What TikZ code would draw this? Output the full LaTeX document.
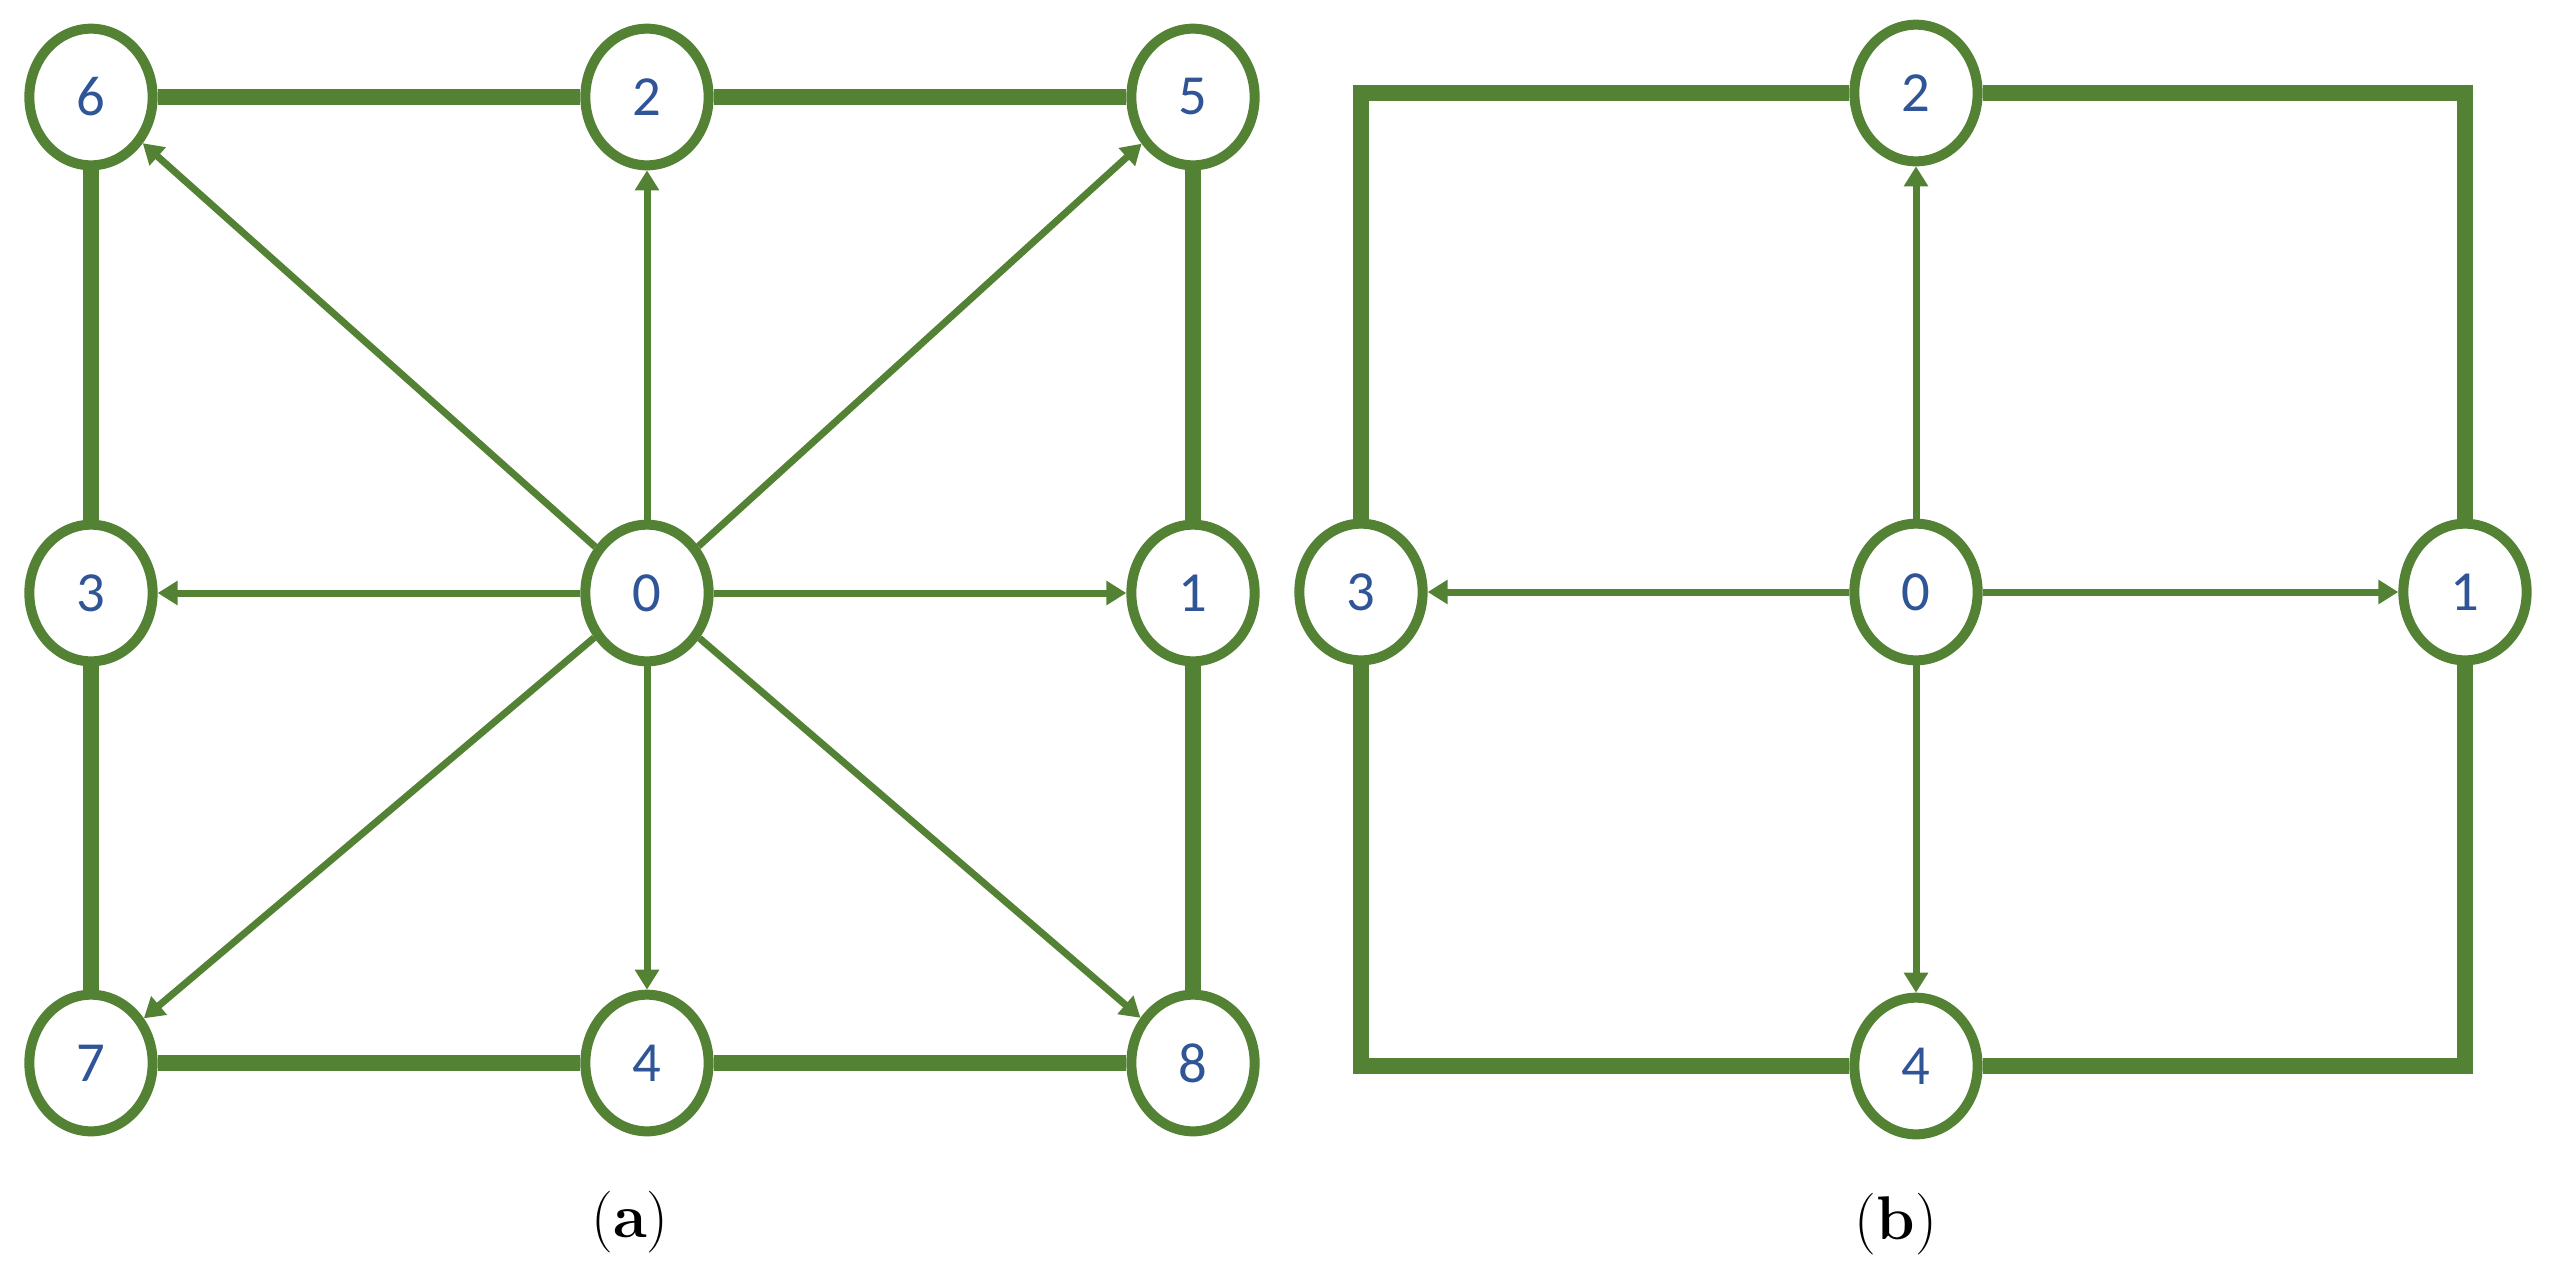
\documentclass[tikz,border=0pt]{standalone}
\usepackage{fontspec}
\newfontfamily\numfont{Carlito}
\usetikzlibrary{arrows.meta,shapes.geometric}
\definecolor{gr}{HTML}{548235}
\definecolor{bl}{HTML}{2F5597}
\tikzset{
  vtx/.style={ellipse,draw=gr,line width=3pt,fill=white,minimum width=37pt,minimum height=41pt,inner sep=0pt,text=bl,font=\numfont\fontsize{17}{20}\selectfont},
  thickedge/.style={draw=gr,line width=4.8pt},
  arr/.style={draw=gr,line width=2.1pt,-{Triangle[length=6pt,width=7pt]}},
  captxt/.style={font=\fontsize{18.5}{22}\selectfont}
}
\begin{document}
\begin{tikzpicture}[x=0.3pt,y=-0.3pt]
\useasboundingbox (0,0) rectangle (2553,1272);
% panel (a)
\node[vtx] (a6) at (91,97) {6};
\node[vtx] (a2) at (647,97) {2};
\node[vtx] (a5) at (1193,97) {5};
\node[vtx] (a3) at (91,593) {3};
\node[vtx] (a0) at (647,593) {0};
\node[vtx] (a1) at (1193,593) {1};
\node[vtx] (a7) at (91,1063) {7};
\node[vtx] (a4) at (647,1063) {4};
\node[vtx] (a8) at (1193,1063) {8};
\draw[thickedge] (a6) -- (a2);
\draw[thickedge] (a2) -- (a5);
\draw[thickedge] (a6) -- (a3);
\draw[thickedge] (a3) -- (a7);
\draw[thickedge] (a5) -- (a1);
\draw[thickedge] (a1) -- (a8);
\draw[thickedge] (a7) -- (a4);
\draw[thickedge] (a4) -- (a8);
\foreach \t in {a6,a2,a5,a3,a1,a7,a4,a8} \draw[arr] (a0) -- (\t);
\node[captxt] (capa) at (630,1222) {(\textbf{a})};
% panel (b)
\node[vtx] (b2) at (1916,93) {2};
\node[vtx] (b3) at (1361,592) {3};
\node[vtx] (b0) at (1916,592) {0};
\node[vtx] (b1) at (2465,592) {1};
\node[vtx] (b4) at (1916,1066) {4};
\draw[thickedge] (b2) -| (b1);
\draw[thickedge] (b1) |- (b4);
\draw[thickedge] (b4) -| (b3);
\draw[thickedge] (b3) |- (b2);
\foreach \t in {b2,b3,b1,b4} \draw[arr] (b0) -- (\t);
\node[captxt] (capb) at (1896,1224) {(\textbf{b})};
\end{tikzpicture}
\end{document}
